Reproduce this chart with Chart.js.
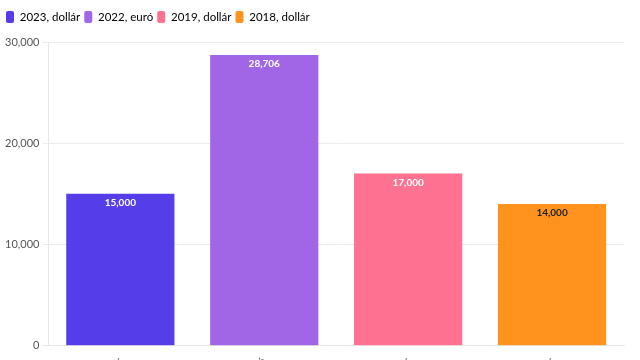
<!DOCTYPE html>
<html>
<head>
<meta charset="utf-8">
<script src="https://cdn.jsdelivr.net/npm/chart.js@4/dist/chart.umd.min.js"></script>
<style>
  html, body { margin: 0; padding: 0; background: #fff; overflow: hidden; }
  #wrap { width: 640px; height: 408px; position: relative; }
</style>
</head>
<body>
<div id="wrap"><canvas id="chart"></canvas></div>
<script>
// data
const categories = ['2023, dollár', '2022, euró', '2019, dollár', '2018, dollár'];
const values = [15000, 28706, 17000, 14000];
const barColors = ['#553de9', '#a066e5', '#ff7190', '#ff931e'];
const labelColors = ['#ffffff', '#ffffff', '#ffffff', '#222222'];
const yTicks = [0, 10000, 20000, 30000];

const fmt = v => v.toLocaleString('en-US');

// value labels inside the top of each bar
const barValueLabels = {
  id: 'barValueLabels',
  afterDatasetsDraw(chart) {
    const ctx = chart.ctx;
    const meta = chart.getDatasetMeta(0);
    ctx.save();
    ctx.font = 'bold 10px Lato, sans-serif';
    ctx.textAlign = 'center';
    ctx.textBaseline = 'middle';
    meta.data.forEach((bar, i) => {
      ctx.fillStyle = labelColors[i];
      ctx.fillText(fmt(values[i]), bar.x, bar.y + 9);
    });
    ctx.restore();
  }
};

// extra room under the legend
const legendGap = {
  id: 'legendGap',
  beforeInit(chart) {
    const fit = chart.legend.fit;
    chart.legend.fit = function () {
      fit.call(this);
      this.height += 9;
    };
  }
};

Chart.defaults.font.family = 'Lato, sans-serif';
Chart.defaults.color = '#555';

new Chart(document.getElementById('chart'), {
  type: 'bar',
  data: {
    labels: categories,
    datasets: [{
      data: values,
      backgroundColor: barColors,
      barPercentage: 0.94,
      categoryPercentage: 0.8
    }]
  },
  options: {
    responsive: true,
    maintainAspectRatio: false,
    animation: false,
    layout: { padding: { left: 2, right: 16, top: 7 } },
    plugins: {
      tooltip: { enabled: false },
      legend: {
        position: 'top',
        align: 'start',
        labels: {
          boxWidth: 8,
          boxHeight: 12,
          useBorderRadius: true,
          borderRadius: 2,
          padding: 4,
          font: { size: 11.5 },
          color: '#555',
          generateLabels: chart => categories.map((c, i) => ({
            text: c,
            fillStyle: barColors[i],
            strokeStyle: barColors[i],
            lineWidth: 0,
            borderRadius: 2,
            index: i
          }))
        }
      }
    },
    scales: {
      x: {
        grid: { display: false, drawTicks: true, tickLength: 6 },
        border: { color: '#e8e8e8' },
        ticks: { maxRotation: 45, minRotation: 45, font: { size: 11 }, color: '#555' }
      },
      y: {
        min: 0,
        max: 30000,
        afterBuildTicks: axis => { axis.ticks = yTicks.map(v => ({ value: v })); },
        grid: { color: '#ececec', tickLength: 6 },
        border: { color: '#e8e8e8' },
        ticks: { callback: v => fmt(v), font: { size: 11 }, color: '#555' }
      }
    }
  },
  plugins: [barValueLabels, legendGap]
});
</script>
</body>
</html>
